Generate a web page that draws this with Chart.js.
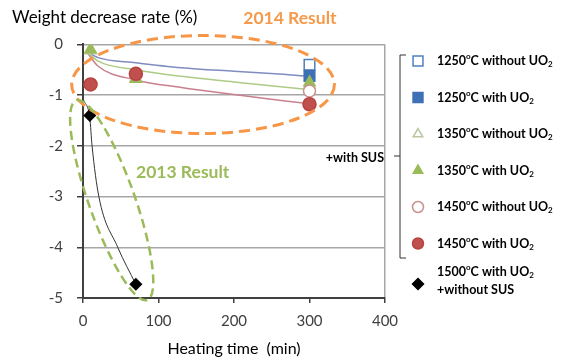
<!DOCTYPE html>
<html>
<head>
<meta charset="utf-8">
<script src="https://cdn.jsdelivr.net/npm/chart.js@4.4.1/dist/chart.umd.min.js"></script>
<style>
  html, body { margin: 0; padding: 0; background: #fff; }
  #wrap { position: relative; width: 576px; height: 358px; }
</style>
</head>
<body>
<div id="wrap"><canvas id="chart"></canvas></div>
<script>
// Series names (º -> superscript o, ₂ -> subscript 2 when drawn)
const seriesLabels = [
    "1250ºC without UO₂",
    "1250ºC with UO₂",
    "1350ºC without UO₂",
    "1350ºC with UO₂",
    "1450ºC without UO₂",
    "1450ºC with UO₂",
    ["1500ºC with UO₂", "+without SUS"],
];

// Measured points: heating time (min) / weight decrease rate (%)
const time1250wo = [300];
const rate1250wo = [-0.40];
const time1250w = [300];
const rate1250w = [-0.62];
const time1350wo = [10, 70, 300];
const rate1350wo = [-0.12, -0.66, -0.80];
const time1350w = [10, 70, 300];
const rate1350w = [-0.10, -0.68, -0.75];
const time1450wo = [70, 300];
const rate1450wo = [-0.60, -0.92];
const time1450w = [10, 70, 300];
const rate1450w = [-0.79, -0.58, -1.18];
const time1500 = [9, 70];
const rate1500 = [-1.40, -4.73];

// Fitted curves
const trendTime = [4, 20, 70, 130, 200, 265, 300];
const trend1250 = [-0.13, -0.26, -0.36, -0.46, -0.53, -0.59, -0.63];
const trend1350 = [-0.13, -0.33, -0.50, -0.63, -0.74, -0.84, -0.89];
const trend1450 = [-0.13, -0.43, -0.70, -0.85, -0.99, -1.11, -1.17];
const trendTime1500 = [1, 9, 12, 21, 46, 70];
const trend1500 = [-1.10, -1.45, -2.00, -3.00, -4.00, -4.73];

const FONT = "Lato, 'Open Sans', sans-serif";

function pts(xs, ys) {
    return xs.map((x, i) => ({ x: x, y: ys[i] }));
}

function markers(label, xs, ys, style, fill, border, radius) {
    return {
        label: label,
        data: pts(xs, ys),
        showLine: false,
        pointStyle: style,
        pointRadius: radius,
        pointBackgroundColor: fill,
        pointBorderColor: border,
        pointBorderWidth: 1.5,
    };
}

function trend(xs, ys, color, width) {
    return {
        label: "",
        data: pts(xs, ys),
        showLine: true,
        borderColor: color,
        borderWidth: width,
        pointRadius: 0,
        cubicInterpolationMode: "monotone",
    };
}

const datasets = [
    markers(seriesLabels[5], time1450w, rate1450w, "circle", "#C0504D", "#B8433F", 6.5),
    markers(seriesLabels[4], time1450wo, rate1450wo, "circle", "#ffffff", "#C8908E", 6),
    markers(seriesLabels[3], time1350w, rate1350w, "triangle", "#9BBB59", "#9BBB59", 6.5),
    markers(seriesLabels[2], time1350wo, rate1350wo, "triangle", "#ffffff", "#B9C7A0", 6.5),
    markers(seriesLabels[1], time1250w, rate1250w, "rect", "#3E70B5", "#3E70B5", 7.5),
    markers(seriesLabels[0], time1250wo, rate1250wo, "rect", "#ffffff", "#4F81BD", 7.5),
    markers(seriesLabels[6], time1500, rate1500, "rectRot", "#000000", "#000000", 5.5),
    trend(trendTime, trend1250, "#7F8CC0", 1.5),
    trend(trendTime, trend1350, "#AECB86", 1.5),
    trend(trendTime, trend1450, "#C9808E", 1.5),
    trend(trendTime1500, trend1500, "#333333", 1),
];

// legend order (top to bottom) -> dataset index
const legendOrder = [5, 4, 3, 2, 1, 0, 6];

// Text with º raised and ₂ lowered
function drawRich(ctx, text, x, y, size) {
    let cx = x;
    let buf = "";
    const flush = () => {
        if (!buf) return;
        ctx.font = "bold " + size + "px " + FONT;
        ctx.fillText(buf, cx, y);
        cx += ctx.measureText(buf).width;
        buf = "";
    };
    for (const ch of text) {
        if (ch === "º" || ch === "₂") {
            flush();
            const small = Math.round(size * 0.62);
            ctx.font = "bold " + small + "px " + FONT;
            const dy = ch === "º" ? -size * 0.33 : size * 0.28;
            const t = ch === "º" ? "o" : "2";
            ctx.fillText(t, cx, y + dy);
            cx += ctx.measureText(t).width;
        } else {
            buf += ch;
        }
    }
    flush();
}

const notes = {
    id: "notes",
    afterDatasetsDraw(chart, args, opts) {
        const { ctx, scales } = chart;
        const xs = scales.x, ys = scales.y;
        ctx.save();
        opts.ellipses.forEach((e) => {
            const x1 = xs.getPixelForValue(e.from[0]), y1 = ys.getPixelForValue(e.from[1]);
            const x2 = xs.getPixelForValue(e.to[0]), y2 = ys.getPixelForValue(e.to[1]);
            ctx.beginPath();
            ctx.setLineDash(e.dash);
            ctx.lineWidth = e.width;
            ctx.strokeStyle = e.color;
            ctx.ellipse((x1 + x2) / 2, (y1 + y2) / 2, Math.hypot(x2 - x1, y2 - y1) / 2,
                e.halfWidth, Math.atan2(y2 - y1, x2 - x1), 0, Math.PI * 2);
            ctx.stroke();
        });
        ctx.setLineDash([]);
        opts.texts.forEach((t) => {
            ctx.font = "bold " + t.size + "px " + FONT;
            ctx.fillStyle = t.color;
            ctx.textAlign = "center";
            ctx.textBaseline = "middle";
            ctx.fillText(t.text, xs.getPixelForValue(t.at[0]), ys.getPixelForValue(t.at[1]));
        });
        ctx.restore();
    },
    afterDraw(chart, args, opts) {
        const ctx = chart.ctx;
        const lg = opts.legend;
        ctx.save();
        ctx.textBaseline = "middle";
        ctx.textAlign = "left";
        legendOrder.forEach((di, row) => {
            const ds = chart.data.datasets[di];
            const y = lg.top + row * lg.step;
            const lines = Array.isArray(ds.label) ? ds.label : [ds.label];
            const my = lines.length > 1 ? y + 4 : y;
            ctx.fillStyle = ds.pointBackgroundColor;
            ctx.strokeStyle = ds.pointBorderColor;
            ctx.lineWidth = 1.5;
            Chart.helpers.drawPoint(ctx, {
                pointStyle: ds.pointStyle,
                rotation: 0,
                radius: ds.pointStyle === "rect" ? 7 : 5.5,
                borderWidth: 1.5,
            }, lg.markerX, my);
            ctx.fillStyle = "#000";
            lines.forEach((line, k) => {
                const ty = y - (lines.length - 1) * 8 + k * 18;
                drawRich(ctx, line, lg.textX, ty, lg.size);
            });
        });
        // bracket grouping the SUS cases
        const b = opts.bracket;
        ctx.strokeStyle = "#333";
        ctx.lineWidth = 1;
        ctx.beginPath();
        ctx.moveTo(b.x + 6, b.top);
        ctx.lineTo(b.x, b.top);
        ctx.lineTo(b.x, b.bottom);
        ctx.lineTo(b.x + 6, b.bottom);
        ctx.moveTo(b.x, b.mid);
        ctx.lineTo(b.x - 6, b.mid);
        ctx.stroke();
        ctx.fillStyle = "#000";
        ctx.textAlign = "right";
        ctx.font = "bold " + lg.size + "px " + FONT;
        ctx.fillText(b.text, b.x - 16, b.mid + 2);
        ctx.restore();
    },
};

const ctx = document.getElementById("chart").getContext("2d");
const chart = new Chart(ctx, {
    type: "scatter",
    data: { datasets: datasets },
    plugins: [notes],
    options: {
        responsive: true,
        maintainAspectRatio: false,
        animation: false,
        layout: { padding: { left: 12, right: 191, top: 0, bottom: 0 } },
        plugins: {
            legend: { display: false },
            tooltip: { enabled: false },
            title: {
                display: true,
                text: "Weight decrease rate (%)",
                align: "start",
                color: "#000",
                font: { family: FONT, size: 17, weight: "normal" },
                padding: { top: 7, bottom: 17 },
            },
            notes: {
                ellipses: [
                    { from: [-15, -0.79], to: [333, -0.79], halfWidth: 49, color: "#F79646", width: 3, dash: [11, 6] },
                    { from: [-9, -1.1], to: [85, -5.04], halfWidth: 23, color: "#9BBB59", width: 2.5, dash: [9, 5] },
                ],
                texts: [
                    { text: "2014 Result", at: [274, 0.51], color: "#F59A4A", size: 17.5 },
                    { text: "2013 Result", at: [132, -2.52], color: "#9BBB59", size: 17.5 },
                ],
                legend: { top: 61, step: 36.5, markerX: 418, textX: 437, size: 12.5 },
                bracket: { x: 400, top: 55, bottom: 258, mid: 156, text: "+with SUS" },
            },
        },
        scales: {
            x: {
                type: "linear",
                min: 0,
                max: 400,
                ticks: { stepSize: 100, color: "#404040", font: { family: FONT, size: 15 }, padding: 9 },
                grid: {
                    color: (c) => (c.tick && c.tick.value === 400 ? "#a6a6a6" : "rgba(0,0,0,0)"),
                    tickColor: "#404040",
                    tickLength: 5,
                    lineWidth: 1.5,
                },
                border: { color: "#404040", width: 2 },
                title: {
                    display: true,
                    text: "Heating time  (min)",
                    color: "#000",
                    font: { family: FONT, size: 16 },
                    padding: { top: 4, bottom: 0 },
                },
                afterFit: (s) => { s.height = 60; },
            },
            y: {
                min: -5,
                max: 0,
                ticks: { stepSize: 1, color: "#404040", font: { family: FONT, size: 15 }, padding: 14 },
                grid: {
                    color: (c) => (c.tick && c.tick.value === -5 ? "rgba(0,0,0,0)" : "#a6a6a6"),
                    tickColor: "#404040",
                    tickLength: 6,
                    lineWidth: 1.5,
                },
                border: { color: "#404040", width: 2 },
                afterFit: (s) => { s.width = 71; },
            },
        },
    },
});
</script>
</body>
</html>
